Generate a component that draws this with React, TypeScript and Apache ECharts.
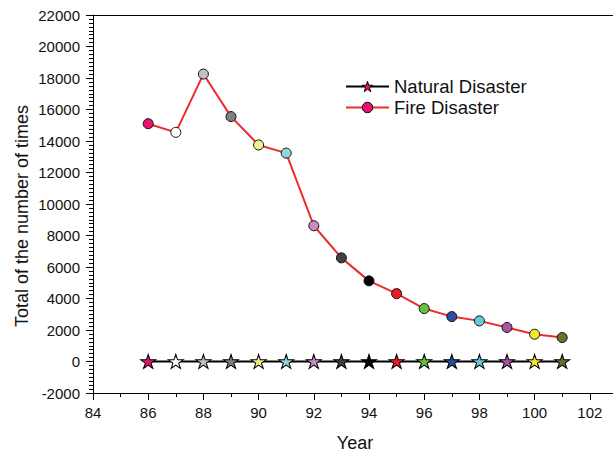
import React, { useEffect, useRef } from "react";
import * as echarts from "echarts";

const years = [86, 87, 88, 89, 90, 91, 92, 93, 94, 95, 96, 97, 98, 99, 100, 101];
const naturalDisaster = [0, 0, 0, 0, 0, 0, 0, 0, 0, 0, 0, 0, 0, 0, 0, 0];
const fireDisaster = [15100, 14550, 18250, 15550, 13750, 13230, 8620, 6580, 5120, 4310, 3360, 2850, 2580, 2160, 1730, 1520];
const pointColors = [
  "#e8136f", "#ffffff", "#c0c0c0", "#808080", "#f2f08a", "#8ed3e0", "#c88cc0", "#404040",
  "#000000", "#ee1c25", "#6abf45", "#2b4fa0", "#66c9d8", "#a855a5", "#f2e830", "#6e702a",
];
const seriesNames = ["Natural Disaster", "Fire Disaster"];
const xTitle = "Year";
const yTitle = "Total of the number of times";

const STAR =
  "path://M50 0 L61.23 34.55 L97.55 34.55 L68.16 55.9 L79.39 90.45 L50 69.1 L20.61 90.45 L31.84 55.9 L2.45 34.55 L38.77 34.55 Z";

export default function App() {
  const ref = useRef<HTMLDivElement>(null);
  useEffect(() => {
    if (!ref.current) return;
    const chart = echarts.init(ref.current, null, { renderer: "svg" });
    const font = "Liberation Sans, Arial, sans-serif";
    chart.setOption({
      animation: false,
      backgroundColor: "#ffffff",
      textStyle: { fontFamily: font },
      grid: { left: 93, top: 15, bottom: 62, width: 552, containLabel: false, outerBoundsMode: "none" },
      legend: {
        left: 340,
        top: 72,
        orient: "vertical",
        itemWidth: 43,
        itemHeight: 13,
        itemGap: 2,
        textStyle: { fontSize: 18.5, color: "#111", fontFamily: font },
        data: [
          {
            name: seriesNames[0],
            itemStyle: { color: "#e8136f", borderColor: "#000", borderWidth: 1 },
            lineStyle: { color: "#000", width: 2 },
          },
          {
            name: seriesNames[1],
            itemStyle: { color: "#e8136f", borderColor: "#000", borderWidth: 1 },
            lineStyle: { color: "#ee2a2a", width: 2 },
          },
        ],
      },
      xAxis: [
        {
          type: "value",
          min: 84,
          max: 104,
          interval: 2,
          position: "bottom",
          axisLine: { onZero: false, lineStyle: { color: "#000", width: 1 } },
          axisTick: { show: true, inside: false, length: 7, lineStyle: { color: "#000" } },
          minorTick: { show: true, splitNumber: 2, length: 4, lineStyle: { color: "#000" } },
          splitLine: { show: false },
          axisLabel: {
            fontSize: 15,
            color: "#111",
            margin: 12,
            fontFamily: font,
            formatter: (v: number) => (v > 102 ? "" : String(v)),
          },
        },
        {
          type: "value",
          min: 84,
          max: 104,
          interval: 2,
          position: "top",
          axisLine: { onZero: false, lineStyle: { color: "#000", width: 1 } },
          axisTick: { show: false },
          axisLabel: { show: false },
          splitLine: { show: false },
        },
      ],
      yAxis: {
        type: "value",
        min: -2000,
        max: 22000,
        interval: 2000,
        axisLine: { show: true, onZero: false, lineStyle: { color: "#000", width: 1 } },
        axisTick: { show: true, inside: false, length: 7, lineStyle: { color: "#000" } },
        minorTick: { show: true, splitNumber: 8, length: 4, lineStyle: { color: "#000" } },
        splitLine: { show: false },
        axisLabel: { fontSize: 15, color: "#111", margin: 13, fontFamily: font, formatter: (v: number) => String(v) },
      },
      graphic: [
        {
          type: "text",
          x: 355,
          y: 443,
          style: { text: xTitle, fontSize: 18, fill: "#111", fontFamily: font, textAlign: "center", textVerticalAlign: "middle" },
        },
        {
          type: "text",
          x: 22,
          y: 216,
          rotation: Math.PI / 2,
          style: { text: yTitle, fontSize: 18, fill: "#111", fontFamily: font, textAlign: "center", textVerticalAlign: "middle" },
        },
      ],
      series: [
        {
          name: seriesNames[0],
          type: "line",
          symbol: STAR,
          symbolSize: [15, 14],
          lineStyle: { color: "#000", width: 2 },
          itemStyle: { color: "#e8136f", borderColor: "#000", borderWidth: 1 },
          data: years.map((y, i) => ({ value: [y, naturalDisaster[i]], itemStyle: { color: pointColors[i] } })),
          z: 3,
        },
        {
          name: seriesNames[1],
          type: "line",
          symbol: "circle",
          symbolSize: 10,
          lineStyle: { color: "#ee2a2a", width: 2 },
          itemStyle: { color: "#e8136f", borderColor: "#111", borderWidth: 1 },
          data: years.map((y, i) => ({ value: [y, fireDisaster[i]], itemStyle: { color: pointColors[i] } })),
          z: 4,
        },
      ],
    });
    return () => chart.dispose();
  }, []);
  return <div ref={ref} style={{ position: "fixed", left: 0, top: 0, width: 613, height: 455, background: "#fff" }} />;
}
